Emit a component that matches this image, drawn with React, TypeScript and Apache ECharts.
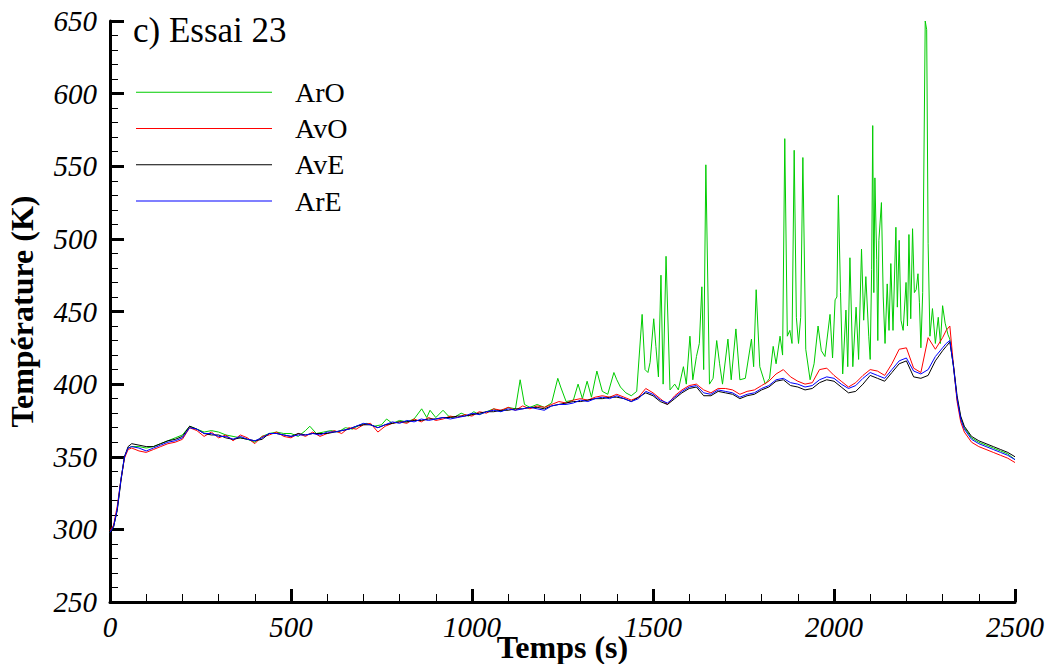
import React, { useEffect, useRef } from "react";
import * as echarts from "echarts";

// Shared time stamps (s) for AvO, AvE, ArE
const times: number[] = [
  0, 10, 20, 30, 40, 50, 60, 80, 100, 120,
  140, 160, 180, 200, 220, 240, 260, 280, 300, 320,
  340, 360, 380, 400, 420, 440, 460, 480, 500, 520,
  540, 560, 580, 600, 620, 640, 660, 680, 700, 720,
  740, 760, 780, 800, 820, 840, 860, 880, 900, 920,
  940, 960, 980, 1000, 1020, 1040, 1060, 1080, 1100, 1120,
  1140, 1160, 1180, 1200, 1220, 1240, 1260, 1280, 1300, 1320,
  1340, 1360, 1380, 1400, 1420, 1440, 1460, 1480, 1500, 1520,
  1540, 1560, 1580, 1600, 1620, 1640, 1660, 1680, 1700, 1720,
  1740, 1760, 1780, 1800, 1820, 1840, 1860, 1880, 1900, 1920,
  1940, 1960, 1980, 2000, 2020, 2040, 2060, 2080, 2100, 2120,
  2140, 2160, 2180, 2200, 2220, 2240, 2260, 2280, 2300, 2310,
  2320, 2330, 2340, 2350, 2360, 2380, 2400, 2420, 2440, 2460,
  2480, 2500,
];

const arEValues: number[] = [
  298, 302, 314, 334, 350, 356, 357, 356, 354, 356,
  358, 360, 361, 363, 370, 369, 366, 366, 364, 364,
  362, 364, 362, 361, 363, 366, 366, 365, 364, 365,
  365, 366, 365, 367, 367, 368, 369, 371, 373, 372,
  370, 372, 374, 373, 375, 374, 376, 375, 376, 377,
  376, 377, 378, 380, 379, 381, 382, 381, 383, 382,
  383, 384, 383, 382, 385, 386, 386, 387, 389, 388,
  390, 391, 390, 392, 390, 388, 390, 395, 393, 389,
  387, 391, 395, 398, 399, 394, 393, 396, 395, 394,
  391, 393, 394, 397, 399, 403, 404, 401, 400, 398,
  399, 403, 405, 404, 400, 397, 399, 404, 408, 406,
  404, 410, 416, 418, 409, 407, 410, 419, 425, 428,
  430, 412, 390, 376, 369, 362, 359, 357, 355, 353,
  351, 348,
];

const avOValues: number[] = [
  299, 303, 316, 334, 349, 355, 356, 354, 353, 355,
  357, 359, 360, 362, 370, 368, 364, 367, 363, 365,
  361, 365, 363, 359, 364, 365, 367, 364, 363, 366,
  364, 367, 364, 366, 368, 366, 370, 369, 372, 373,
  367, 371, 373, 374, 373, 376, 374, 377, 375, 376,
  378, 377, 379, 378, 381, 380, 383, 382, 384, 382,
  385, 383, 385, 384, 386, 388, 387, 389, 390, 389,
  391, 392, 391, 393, 391, 389, 391, 397, 394, 390,
  386, 392, 396, 399, 400, 396, 394, 397, 397, 396,
  393, 395, 396, 399, 402, 407, 410, 405, 402, 400,
  401, 410, 411, 406, 402, 398, 401, 406, 410, 409,
  406, 414, 424, 425, 411, 408, 432, 424, 432, 437,
  440, 413, 388, 374, 367, 360, 357, 355, 353, 351,
  349, 346,
];

const avEValues: number[] = [
  298, 302, 313, 333, 350, 357, 359, 358, 357, 357,
  359, 361, 362, 364, 371, 369, 366, 365, 365, 363,
  362, 363, 362, 361, 362, 366, 366, 365, 364, 366,
  365, 366, 366, 366, 367, 368, 369, 371, 372, 372,
  370, 372, 373, 374, 374, 375, 375, 376, 376, 377,
  377, 378, 378, 379, 380, 381, 381, 382, 382, 383,
  383, 384, 384, 383, 385, 386, 387, 388, 388, 389,
  390, 390, 391, 391, 390, 388, 391, 394, 392, 388,
  386, 390, 394, 397, 398, 392, 392, 395, 394, 393,
  390, 392, 393, 396, 398, 402, 403, 399, 398, 396,
  397, 401, 403, 402, 398, 394, 395, 400, 406, 404,
  402, 408, 414, 416, 405, 404, 406, 416, 423, 426,
  429, 413, 392, 378, 371, 364, 361, 359, 357, 355,
  353, 350,
];

// ArO has its own, denser time stamps because of the spikes: [time (s), temperature (K)]
const arOData: [number, number][] = [
  [0, 298], [10, 302], [20, 314], [30, 334], [40, 350], [50, 356], [60, 357], [80, 357],
  [100, 356], [120, 357], [140, 359], [160, 361], [180, 363], [200, 365], [220, 371],
  [240, 369], [260, 367], [280, 368], [300, 367], [320, 365], [340, 364], [360, 363],
  [380, 362], [400, 360], [420, 364], [440, 366], [460, 367], [480, 366], [500, 366],
  [520, 364], [540, 368], [552, 371], [570, 366], [590, 367], [610, 368], [630, 367],
  [650, 370], [670, 369], [690, 372], [710, 373], [730, 371], [750, 372], [764, 376],
  [780, 373], [800, 375], [820, 374], [840, 376], [861, 383], [875, 377], [884, 382],
  [900, 377], [920, 382], [935, 378], [950, 377], [970, 380], [990, 378], [1005, 381],
  [1020, 379], [1040, 381], [1060, 383], [1080, 381], [1100, 384], [1120, 383],
  [1133, 403], [1145, 386], [1160, 384], [1180, 386], [1200, 384], [1220, 387],
  [1237, 404], [1245, 398], [1260, 388], [1280, 389], [1293, 400], [1305, 390],
  [1318, 402], [1330, 391], [1345, 409], [1360, 395], [1375, 393], [1392, 408],
  [1400, 403], [1410, 398], [1425, 394], [1440, 392], [1455, 395], [1470, 448],
  [1478, 410], [1486, 408], [1492, 415], [1502, 445], [1508, 426], [1515, 405],
  [1522, 475], [1528, 400], [1536, 488], [1547, 396], [1560, 400], [1570, 396],
  [1584, 412], [1592, 400], [1602, 433], [1610, 403], [1620, 419], [1628, 428],
  [1635, 467], [1640, 410], [1646, 551], [1656, 400], [1666, 404], [1676, 430],
  [1684, 414], [1692, 400], [1707, 431], [1716, 403], [1729, 438], [1740, 403],
  [1755, 404], [1772, 431], [1778, 412], [1785, 465], [1795, 412], [1810, 400],
  [1822, 404], [1832, 426], [1840, 414], [1851, 433], [1858, 420], [1864, 569],
  [1871, 433], [1878, 437], [1884, 428], [1890, 561], [1896, 446], [1902, 428],
  [1908, 446], [1914, 556], [1922, 424], [1934, 403], [1945, 414], [1956, 440],
  [1965, 423], [1975, 419], [1989, 448], [1996, 418], [2003, 458], [2008, 460],
  [2012, 530], [2018, 463], [2024, 407], [2033, 451], [2038, 412], [2044, 487],
  [2052, 412], [2061, 453], [2068, 417], [2076, 493], [2082, 444], [2088, 474],
  [2096, 433], [2100, 417], [2104, 479], [2107, 578], [2110, 463], [2113, 542],
  [2118, 486], [2121, 430], [2124, 499], [2131, 525], [2136, 460], [2141, 428],
  [2147, 469], [2152, 437], [2157, 483], [2163, 437], [2171, 508], [2175, 453],
  [2180, 499], [2185, 444], [2191, 437], [2199, 470], [2203, 440], [2207, 503],
  [2212, 445], [2217, 507], [2222, 463], [2227, 465], [2232, 476], [2236, 456],
  [2240, 425], [2245, 463], [2252, 650], [2256, 644], [2260, 497], [2265, 433],
  [2272, 452], [2280, 428], [2288, 446], [2294, 428], [2300, 454], [2307, 442],
  [2315, 434], [2320, 431], [2330, 412], [2340, 390], [2350, 377], [2360, 370],
  [2380, 363], [2400, 360], [2420, 358], [2440, 356], [2460, 354], [2480, 352],
  [2500, 348],
];

const seriesNames: string[] = ["ArO", "AvO", "AvE", "ArE"];
const seriesColors: string[] = ["#00cc00", "#ff0000", "#000000", "#0000ff"];

const FONT = "Liberation Serif";

function zip(t: number[], v: number[]): [number, number][] {
  return t.map((x, i) => [x, v[i]]);
}

export default function App() {
  const ref = useRef<HTMLDivElement>(null);

  useEffect(() => {
    if (!ref.current) return;
    const chart = echarts.init(ref.current, null, { renderer: "svg" });
    const datasets: [number, number][][] = [
      arOData,
      zip(times, avOValues),
      zip(times, avEValues),
      zip(times, arEValues),
    ];
    const labelStyle = {
      fontFamily: FONT,
      fontSize: 29,
      fontStyle: "italic",
      color: "#000",
      formatter: (v: number) => String(v),
    };
    const axisCommon = {
      axisLine: { show: true, lineStyle: { color: "#000", width: 3 } },
      minorTick: { show: true, splitNumber: 5, length: 8, lineStyle: { color: "#000", width: 1 } },
      splitLine: { show: false },
      minorSplitLine: { show: false },
      nameMoveOverlap: false,
      nameTextStyle: { fontFamily: FONT, fontSize: 32, fontWeight: "bold", color: "#000" },
    };
    chart.setOption({
      animation: false,
      backgroundColor: "#ffffff",
      title: {
        text: "c) Essai 23",
        left: 133,
        top: 13,
        padding: 0,
        textStyle: { fontFamily: FONT, fontSize: 35, fontWeight: "normal", color: "#000" },
      },
      legend: {
        data: seriesNames,
        orient: "vertical",
        left: 136,
        top: 74,
        padding: 0,
        itemGap: 0,
        itemWidth: 136,
        itemHeight: 1,
        icon: "rect",
        selectedMode: false,
        textStyle: {
          fontFamily: FONT,
          fontSize: 28,
          lineHeight: 36.3,
          color: "#000",
          padding: [0, 0, 0, 18],
        },
      },
      grid: { left: 110, top: 21, right: 36, bottom: 62, containLabel: false, outerBoundsMode: "none" },
      xAxis: {
        type: "value",
        min: 0,
        max: 2500,
        interval: 500,
        name: "Temps (s)",
        nameLocation: "middle",
        nameGap: 29,
        ...axisCommon,
        axisTick: { show: true, inside: true, length: 13, lineStyle: { color: "#000", width: 3 } },
        axisLabel: { margin: 10, ...labelStyle },
      },
      yAxis: {
        type: "value",
        min: 250,
        max: 650,
        interval: 50,
        name: "Température (K)",
        nameLocation: "middle",
        nameGap: 72,
        ...axisCommon,
        axisTick: { show: true, inside: true, length: 14, lineStyle: { color: "#000", width: 3 } },
        axisLabel: { margin: 13, ...labelStyle },
      },
      series: seriesNames.map((name, i) => ({
        name,
        type: "line",
        data: datasets[i],
        symbol: "none",
        showSymbol: false,
        color: seriesColors[i],
        lineStyle: { color: seriesColors[i], width: 1 },
        z: 2 + i,
      })),
    });
    return () => {
      chart.dispose();
    };
  }, []);

  return (
    <div
      ref={ref}
      style={{ position: "fixed", left: 0, top: 0, width: 1051, height: 664, background: "#fff" }}
    />
  );
}
